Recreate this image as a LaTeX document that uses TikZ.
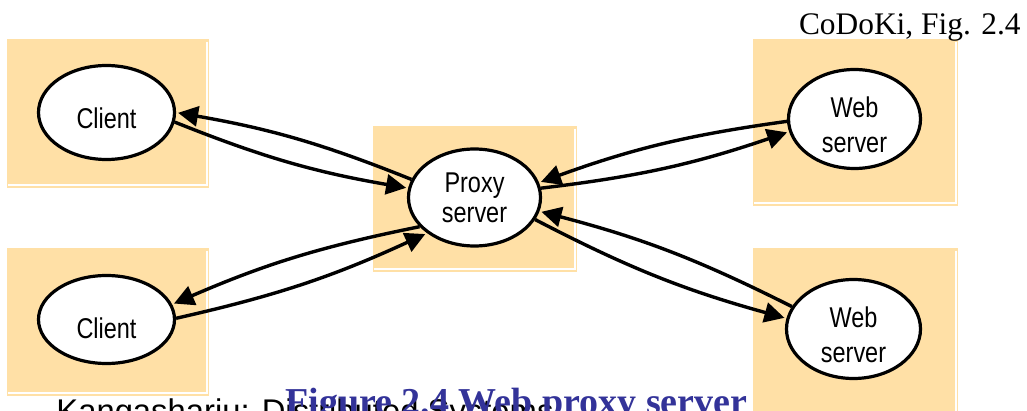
\documentclass[tikz,border=0pt]{standalone}
\usepackage{fontspec}
\setmainfont{Liberation Serif}
\newfontfamily\hostfont[FakeStretch=0.82]{Liberation Sans}
\newfontfamily\footfont{Liberation Sans}
\usetikzlibrary{arrows.meta,shapes.geometric}
\definecolor{codoPeach}{HTML}{FFE0A6}
\definecolor{codoNavy}{HTML}{333399}
\newcommand{\lowered}[2]{\raisebox{-#1}[\height][\depth]{#2}}
\newcommand{\twolines}[2]{\begin{tabular}{@{}c@{}}#1\\#2\end{tabular}}
\tikzset{
  zone/.style={fill=codoPeach,inner sep=0pt},
  zoneedge/.style={draw=white,line width=0.75pt},
  host/.style={ellipse,draw=black,fill=white,line width=1.6pt,inner sep=0pt,
    font=\hostfont\fontsize{14.3}{17.5}\selectfont},
  link/.style={-{Triangle[length=10pt,width=10pt]},line width=1.7pt,shorten >=1pt},
  plain/.style={inner sep=0pt}
}
\begin{document}
\begin{tikzpicture}[x=0.5pt,y=-0.5pt]
  \clip (0,0) rectangle (1027,411);
  % shaded zones behind the hosts
  \node[zone,minimum width=101pt,minimum height=74.5pt] (zclient1) at (108,113.5) {};
  \node[zone,minimum width=101pt,minimum height=74pt] (zclient2) at (108,322) {};
  \node[zone,minimum width=102pt,minimum height=73pt] (zproxy) at (475,199) {};
  \node[zone,minimum width=102.5pt,minimum height=83.5pt] (zweb1) at (855.5,122.5) {};
  \node[zone,minimum width=102.5pt,minimum height=86pt] (zweb2) at (855.5,334) {};
  \foreach \z in {zclient1,zclient2,zproxy,zweb1,zweb2}
    \draw[zoneedge] ([xshift=-1.25pt,yshift=-1.5pt]\z.north east)
      -- ([xshift=-1.25pt,yshift=1.75pt]\z.south east)
      -- ([xshift=0.5pt,yshift=1.75pt]\z.south west);

  % hosts
  \node[host,minimum width=68pt,minimum height=47pt] (client1) at (106.5,112.5) {\lowered{2.75pt}{Client}};
  \node[host,minimum width=68pt,minimum height=44pt] (client2) at (106.5,319.5) {\lowered{4.25pt}{Client}};
  \node[host,minimum width=66pt,minimum height=48.5pt,font=\hostfont\fontsize{14.3}{14.5}\selectfont]
    (proxy) at (474.5,197.5) {\lowered{2.1pt}{\twolines{Proxy}{server}}};
  \node[host,minimum width=66pt,minimum height=42.5pt] (web1) at (854.5,119) {\lowered{4.5pt}{\twolines{Web}{server}}};
  \node[host,minimum width=67pt,minimum height=45pt] (web2) at (853.5,329) {\lowered{4.25pt}{\twolines{Web}{server}}};

  % requests and replies
  \draw[link] (proxy.164) to[bend right=6] (client1.0);
  \draw[link] (client1.-8) to[bend right=6] (proxy.172);
  \draw[link] (proxy.208) to[bend right=6] (client2.13);
  \draw[link] (client2.1) to[bend right=6] (proxy.217);
  \draw[link] (web1.182) to[bend right=6] (proxy.13);
  \draw[link] (proxy.8) to[bend right=6] (web1.191);
  \draw[link] (web2.160) to[bend right=6] (proxy.-12);
  \draw[link] (proxy.-20) to[bend right=6] (web2.171);

  % texts
  \node[plain,anchor=base east,font=\fontsize{15.7}{18}\selectfont] (credit) at (1021,35) {CoDoKi, Fig. 2.4};
  \node[plain,anchor=base west,font=\footfont\fontsize{16.4}{19}\selectfont] (author) at (56,422) {Kangasharju: Distributed Systems};
  \node[plain,anchor=base west,font=\bfseries\fontsize{19}{22}\selectfont,text=codoNavy] (caption) at (285,414) {Figure 2.4 Web proxy server};
\end{tikzpicture}
\end{document}
